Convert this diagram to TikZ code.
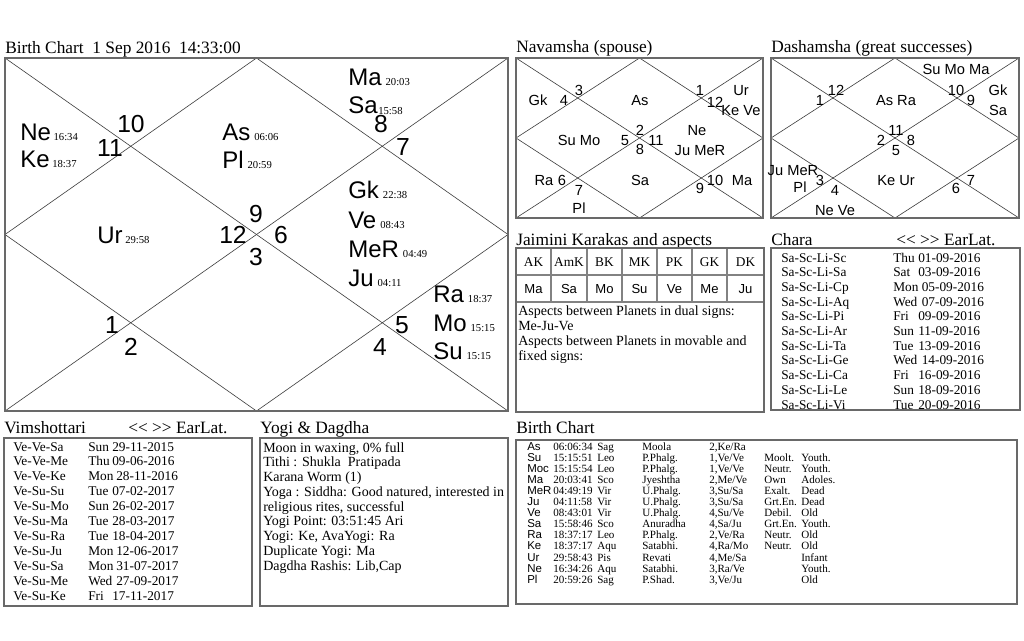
\documentclass[tikz,border=0pt]{standalone}
\usepackage{fontspec}
\setmainfont{Liberation Serif}
\newfontfamily\arialf{Liberation Sans}
\definecolor{boxgray}{RGB}{105,105,105}
\definecolor{linegray}{RGB}{60,60,60}
\definecolor{cellgray}{RGB}{130,130,130}
\newcommand\dgt[1]{{\rmfamily\fontsize{8}{9}\selectfont#1}}
\newcommand\navarrows{{<}{<}\ {>}{>}}
\tikzset{
 bx/.style={draw=boxgray, line width=1.1pt},
 kl/.style={draw=linegray, line width=0.45pt},
 cl/.style={draw=cellgray, line width=0.8pt},
 ttl/.style={anchor=base west, inner sep=0, font=\fontsize{13}{15}\selectfont},
 pl/.style={anchor=base west, inner sep=0, font=\arialf\fontsize{18}{20}\selectfont},
 hn/.style={anchor=base, inner sep=0, font=\arialf\fontsize{18.5}{20}\selectfont},
 dv/.style={anchor=base, inner sep=0, font=\arialf\fontsize{11}{12}\selectfont},
 tx/.style={anchor=base west, inner sep=0, font=\fontsize{10.5}{12}\selectfont},
 rw/.style={anchor=base west, inner sep=0, font=\fontsize{10}{12}\selectfont},
 sm/.style={anchor=base west, inner sep=0, font=\fontsize{8.3}{9}\selectfont},
 smp/.style={anchor=base west, inner sep=0, font=\arialf\fontsize{8.6}{9}\selectfont},
 jh/.style={anchor=base, inner sep=0, font=\fontsize{10}{12}\selectfont},
 jv/.style={anchor=base, inner sep=0, font=\arialf\fontsize{9.8}{12}\selectfont},
}
% chart lines
\newcommand\kundli[4]{%
 \draw[kl] (#1,#2) -- (#3,#4);
 \draw[kl] (#3,#2) -- (#1,#4);
 \draw[kl] ({(#1+#3)/2},#2) -- (#3,{(#2+#4)/2}) -- ({(#1+#3)/2},#4) -- (#1,{(#2+#4)/2}) -- cycle;
 \draw[bx] (#1,#2) rectangle (#3,#4);}
% vimshottari / chara row: name, y, x1, text1, x2, day, x3, date
\newcommand\drow[8]{%
 \node[rw] (#1a) at (#3,#2) {#4};
 \node[rw] (#1b) at (#5,#2) {#6};
 \node[rw] (#1c) at (#7,#2) {#8};}
% birth chart table row
\newcommand\btrow[9]{%
 \node[smp] (bt#1a) at (527,#2) {#3};
 \node[sm] (bt#1b) at (553,#2) {#4};
 \node[sm] (bt#1c) at (597,#2) {#5};
 \node[sm] (bt#1d) at (642,#2) {#6};
 \node[sm] (bt#1e) at (709,#2) {#7};
 \node[sm] (bt#1f) at (764,#2) {#8};
 \node[sm] (bt#1g) at (801,#2) {#9};}
\begin{document}
\begin{tikzpicture}[x=0.75pt,y=-0.75pt]
\fill[white] (0,0) rectangle (1024,640);
\useasboundingbox (0,0) rectangle (1024,640);

% ---------------- Main birth chart ----------------
\node[ttl] (t1) at (5,53) {Birth Chart\ \ 1 Sep 2016\ \ 14:33:00};
\kundli{5}{58}{508}{411}
\node[pl] (mMa) at (348,85) {Ma\hspace{3pt}\dgt{20:03}};
\node[pl] (mSa) at (348,113) {Sa\hspace{0.5pt}\raisebox{-1pt}{\dgt{15:58}}};
\node[hn] (m8) at (381,132) {8};
\node[hn] (m7) at (403,155) {7};
\node[hn] (m10) at (131,132) {10};
\node[hn] (m11) at (110,156) {11};
\node[pl] (mNe) at (20,140) {Ne\hspace{2pt}\dgt{16:34}};
\node[pl] (mKe) at (20,167) {Ke\hspace{2pt}\dgt{18:37}};
\node[pl] (mAs) at (222,140) {As\hspace{3pt}\dgt{06:06}};
\node[pl] (mPl) at (222,168) {Pl\hspace{3pt}\dgt{20:59}};
\node[pl] (mGk) at (348,198) {Gk\hspace{3pt}\dgt{22:38}};
\node[pl] (mVe) at (348,228) {Ve\hspace{3pt}\dgt{08:43}};
\node[pl] (mMeR) at (348,257) {MeR\hspace{3pt}\dgt{04:49}};
\node[pl] (mJu) at (348,286) {Ju\hspace{3pt}\dgt{04:11}};
\node[pl] (mRa) at (433,302) {Ra\hspace{3pt}\dgt{18:37}};
\node[pl] (mMo) at (433,331) {Mo\hspace{3pt}\dgt{15:15}};
\node[pl] (mSu) at (433,359) {Su\hspace{3pt}\dgt{15:15}};
\node[pl] (mUr) at (97,243) {Ur\hspace{2pt}\dgt{29:58}};
\node[hn] (m9) at (256,222) {9};
\node[hn] (m12) at (233,243) {12};
\node[hn] (m6) at (281,243) {6};
\node[hn] (m3) at (256,265) {3};
\node[hn] (m1) at (112,333) {1};
\node[hn] (m2) at (131,355) {2};
\node[hn] (m5) at (402,333) {5};
\node[hn] (m4) at (380,355) {4};

% ---------------- Navamsha ----------------
\node[ttl] (t2) at (516,52) {Navamsha (spouse)};
\kundli{516}{58}{763}{218}
\node[dv] (nGk) at (538,105) {Gk};
\node[dv] (n4) at (564,105) {4};
\node[dv] (n3) at (579,95) {3};
\node[dv] (nAs) at (640,105) {As};
\node[dv] (n1) at (700,95) {1};
\node[dv] (nUr) at (741,95) {Ur};
\node[dv] (n12) at (715,107) {12};
\node[dv] (nKeVe) at (741,115) {Ke Ve};
\node[dv] (nSuMo) at (579,145) {Su Mo};
\node[dv] (n5) at (625,145) {5};
\node[dv] (n2) at (640,135) {2};
\node[dv] (n8) at (640,154) {8};
\node[dv] (n11) at (656,145) {11};
\node[dv] (nNe) at (697,135) {Ne};
\node[dv] (nJuMeR) at (700,155) {Ju MeR};
\node[dv] (nRa) at (544,185) {Ra};
\node[dv] (n6) at (562,185) {6};
\node[dv] (n7) at (579,195) {7};
\node[dv] (nSa) at (640,185) {Sa};
\node[dv] (n9) at (700,193) {9};
\node[dv] (n10) at (715,185) {10};
\node[dv] (nMa) at (742,185) {Ma};
\node[dv] (nPl) at (579,213) {Pl};

% ---------------- Dashamsha ----------------
\node[ttl] (t3) at (771,52) {Dashamsha (great successes)};
\kundli{771}{58}{1019}{218}
\node[dv] (dSuMoMa) at (956,74) {Su Mo Ma};
\node[dv] (d12) at (836,95) {12};
\node[dv] (d1) at (820,105) {1};
\node[dv] (dAsRa) at (896,105) {As Ra};
\node[dv] (d10) at (956,95) {10};
\node[dv] (d9) at (971,105) {9};
\node[dv] (dGk) at (998,95) {Gk};
\node[dv] (dSa) at (998,115) {Sa};
\node[dv] (d11) at (896,135) {11};
\node[dv] (d2) at (881,145) {2};
\node[dv] (d8) at (911,145) {8};
\node[dv] (d5) at (896,155) {5};
\node[dv] (dJuMeR) at (793,175) {Ju MeR};
\node[dv] (d3) at (820,185) {3};
\node[dv] (dPl) at (800,192) {Pl};
\node[dv] (d4) at (835,195) {4};
\node[dv] (dKeUr) at (896,185) {Ke Ur};
\node[dv] (d6) at (956,193) {6};
\node[dv] (d7) at (971,185) {7};
\node[dv] (dNeVe) at (835,215) {Ne Ve};

% ---------------- Jaimini ----------------
\node[ttl] (t4) at (516,245) {Jaimini Karakas and aspects};
\draw[cl] (516,275) -- (764,275);
\draw[cl] (516,302) -- (764,302);
\foreach \xx in {551,587,622,657,692,727} \draw[cl] (\xx,248) -- (\xx,302);
\draw[bx] (516,248) rectangle (764,412);
\foreach \h/\v/\cx [count=\i] in {AK/Ma/533.5,AmK/Sa/569,BK/Mo/604.5,MK/Su/639.5,PK/Ve/674.5,GK/Me/709.5,DK/Ju/745.5}{
 \node[jh] (jh\i) at (\cx,266) {\h};
 \node[jv] (jv\i) at (\cx,293) {\v};
}
\node[tx] (ja1) at (518,315) {Aspects between Planets in dual signs:};
\node[tx] (ja2) at (518,330) {Me-Ju-Ve};
\node[tx] (ja3) at (518,345) {Aspects between Planets in movable and};
\node[tx] (ja4) at (518,360) {fixed signs:};

% ---------------- Chara ----------------
\node[ttl] (t5) at (771,245) {Chara};
\node[ttl] (t5b) at (896,245) {\navarrows\ EarLat.};
\draw[bx] (771,248) rectangle (1020,410);
\drow{ch1}{262}{781}{Sa-Sc-Li-Sc}{893}{Thu}{918}{01-09-2016}
\drow{ch2}{276.7}{781}{Sa-Sc-Li-Sa}{893}{Sat}{918}{03-09-2016}
\drow{ch3}{291.4}{781}{Sa-Sc-Li-Cp}{893}{Mon}{921.5}{05-09-2016}
\drow{ch4}{306.1}{781}{Sa-Sc-Li-Aq}{893}{Wed}{921.5}{07-09-2016}
\drow{ch5}{320.8}{781}{Sa-Sc-Li-Pi}{893}{Fri}{918}{09-09-2016}
\drow{ch6}{335.5}{781}{Sa-Sc-Li-Ar}{893}{Sun}{918}{11-09-2016}
\drow{ch7}{350.2}{781}{Sa-Sc-Li-Ta}{893}{Tue}{918}{13-09-2016}
\drow{ch8}{364.9}{781}{Sa-Sc-Li-Ge}{893}{Wed}{921.5}{14-09-2016}
\drow{ch9}{379.6}{781}{Sa-Sc-Li-Ca}{893}{Fri}{918}{16-09-2016}
\drow{ch10}{394.3}{781}{Sa-Sc-Li-Le}{893}{Sun}{918}{18-09-2016}
\drow{ch11}{409}{781}{Sa-Sc-Li-Vi}{893}{Tue}{918}{20-09-2016}

% ---------------- Vimshottari ----------------
\node[ttl] (t6) at (4,433) {Vimshottari};
\node[ttl] (t6b) at (128,433) {\navarrows\ EarLat.};
\draw[bx] (4,438) rectangle (252,606);
\drow{vi1}{451}{13}{Ve-Ve-Sa}{88}{Sun}{112}{29-11-2015}
\drow{vi2}{465.9}{13}{Ve-Ve-Me}{88}{Thu}{112}{09-06-2016}
\drow{vi3}{480.8}{13}{Ve-Ve-Ke}{88}{Mon}{116}{28-11-2016}
\drow{vi4}{495.7}{13}{Ve-Su-Su}{88}{Tue}{112}{07-02-2017}
\drow{vi5}{510.6}{13}{Ve-Su-Mo}{88}{Sun}{112}{26-02-2017}
\drow{vi6}{525.5}{13}{Ve-Su-Ma}{88}{Tue}{112}{28-03-2017}
\drow{vi7}{540.4}{13}{Ve-Su-Ra}{88}{Tue}{112}{18-04-2017}
\drow{vi8}{555.3}{13}{Ve-Su-Ju}{88}{Mon}{116}{12-06-2017}
\drow{vi9}{570.2}{13}{Ve-Su-Sa}{88}{Mon}{116}{31-07-2017}
\drow{vi10}{585.1}{13}{Ve-Su-Me}{88}{Wed}{116}{27-09-2017}
\drow{vi11}{600}{13}{Ve-Su-Ke}{88}{Fri}{112}{17-11-2017}

% ---------------- Yogi & Dagdha ----------------
\node[ttl] (t7) at (260,433) {Yogi \& Dagdha};
\draw[bx] (260,438) rectangle (508,606);
\foreach \ln [count=\i] in {{Moon in waxing, 0\% full},{Tithi : Shukla\ \ Pratipada},{Karana Worm (1)},{Yoga : Siddha: Good natured, interested in},{religious rites, successful},{Yogi Point: 03:51:45 Ari},{Yogi: Ke, AvaYogi: Ra},{Duplicate Yogi: Ma},{Dagdha Rashis: Lib,Cap}}{
 \node[tx] (yg\i) at (263,{452+14.75*(\i-1)}) {\ln};
}

% ---------------- Birth chart table ----------------
\node[ttl] (t8) at (516,433) {Birth Chart};
\draw[bx] (516,440) rectangle (1017,604);
\btrow{1}{450}{As}{06:06:34}{Sag}{Moola}{2,Ke/Ra}{}{}
\btrow{2}{461.1}{Su}{15:15:51}{Leo}{P.Phalg.}{1,Ve/Ve}{Moolt.}{Youth.}
\btrow{3}{472.2}{Moc}{15:15:54}{Leo}{P.Phalg.}{1,Ve/Ve}{Neutr.}{Youth.}
\btrow{4}{483.3}{Ma}{20:03:41}{Sco}{Jyeshtha}{2,Me/Ve}{Own}{Adoles.}
\btrow{5}{494.4}{MeR}{04:49:19}{Vir}{U.Phalg.}{3,Su/Sa}{Exalt.}{Dead}
\btrow{6}{505.5}{Ju}{04:11:58}{Vir}{U.Phalg.}{3,Su/Sa}{Grt.En.}{Dead}
\btrow{7}{516.6}{Ve}{08:43:01}{Vir}{U.Phalg.}{4,Su/Ve}{Debil.}{Old}
\btrow{8}{527.7}{Sa}{15:58:46}{Sco}{Anuradha}{4,Sa/Ju}{Grt.En.}{Youth.}
\btrow{9}{538.8}{Ra}{18:37:17}{Leo}{P.Phalg.}{2,Ve/Ra}{Neutr.}{Old}
\btrow{10}{549.9}{Ke}{18:37:17}{Aqu}{Satabhi.}{4,Ra/Mo}{Neutr.}{Old}
\btrow{11}{561}{Ur}{29:58:43}{Pis}{Revati}{4,Me/Sa}{}{Infant}
\btrow{12}{572.1}{Ne}{16:34:26}{Aqu}{Satabhi.}{3,Ra/Ve}{}{Youth.}
\btrow{13}{583.2}{Pl}{20:59:26}{Sag}{P.Shad.}{3,Ve/Ju}{}{Old}
\end{tikzpicture}
\end{document}
